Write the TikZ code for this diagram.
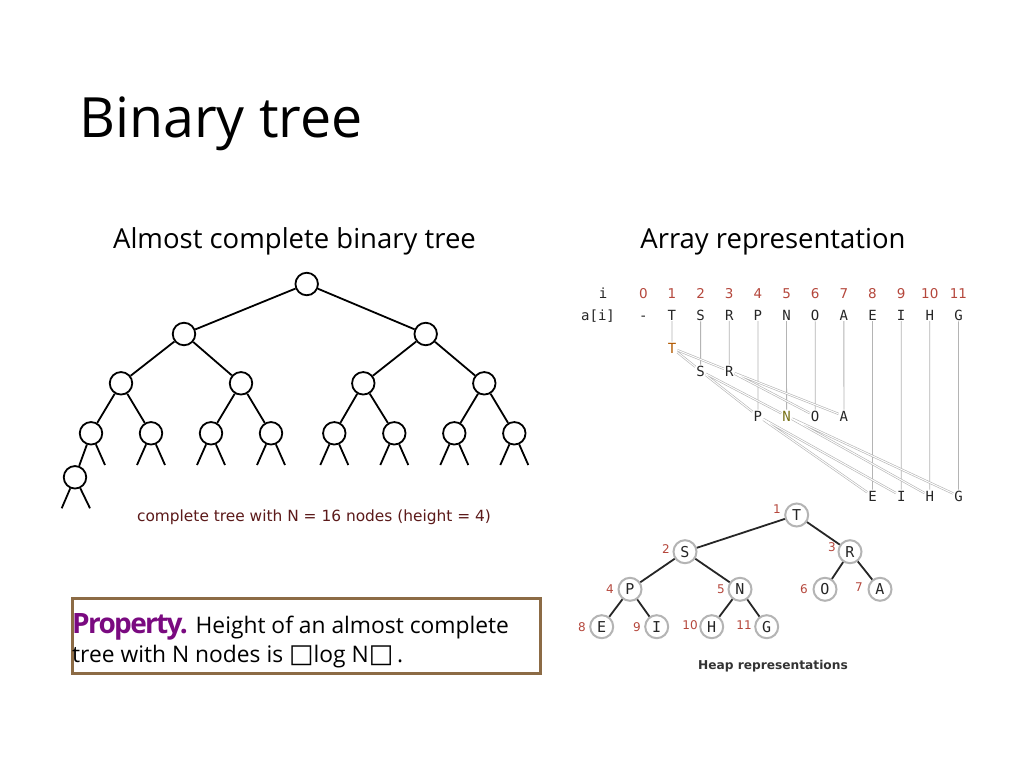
\documentclass[tikz,border=0pt]{standalone}
\usepackage{fontspec}
\setmainfont{Open Sans}
\newfontfamily\dejavu{DejaVu Sans}
\newfontfamily\dmono{DejaVu Sans Mono}
\newfontfamily\capfont{DejaVu Sans}
\usetikzlibrary{positioning}
\definecolor{idxred}{HTML}{B5473C}
\definecolor{capred}{HTML}{5C1A1A}
\definecolor{boxbrown}{HTML}{8C6B45}
\definecolor{propurple}{HTML}{7A0A80}
\definecolor{lgray}{HTML}{B4B4B4}
\tikzset{
  tnode/.style={circle,draw,line width=1.8pt,minimum size=22.5pt,inner sep=0pt},
  tedge/.style={line width=1.8pt},
  hnode/.style={circle,draw=lgray,line width=2pt,fill=white,minimum size=23pt,inner sep=0pt,font=\dmono\fontsize{15}{15}\selectfont,text=black!85},
  hedge/.style={line width=1.8pt,draw=black!85},
  hidx/.style={text=idxred,font=\dejavu\fontsize{12}{12}\selectfont,inner sep=0pt},
  arr/.style={font=\dmono\fontsize{14}{14}\selectfont,text=black!85,inner sep=1pt},
  aidx/.style={font=\dejavu\fontsize{13.5}{13.5}\selectfont,text=idxred,inner sep=1pt},
  vline/.style={draw=lgray,line width=0.8pt},
  dline/.style={draw=lgray,line width=0.6pt,double=white,double distance=1pt},
}
\begin{document}
\begin{tikzpicture}[x=1pt,y=-1pt]
\useasboundingbox[fill=white] (0,0) rectangle (1024,768);
% titles
\node[anchor=base west,inner sep=0pt,font=\fontsize{55.5}{55.5}\selectfont] (title) at (79,137) {Binary tree};
\node[anchor=base,inner sep=0pt,font=\fontsize{27.5}{27.5}\selectfont] (h1) at (294.5,248) {Almost complete binary tree};
\node[anchor=base,inner sep=0pt,font=\fontsize{27.5}{27.5}\selectfont] (h2) at (773,248) {Array representation};
% left tree
\node[tnode] (n1) at (306.7,284) {};
\node[tnode] (n2) at (184,334) {};
\node[tnode] (n3) at (425.7,334) {};
\node[tnode] (n4) at (121,383.3) {};
\node[tnode] (n5) at (241,383.3) {};
\node[tnode] (n6) at (363.3,383.3) {};
\node[tnode] (n7) at (484.3,383.3) {};
\foreach \i/\x in {8/91,9/151,10/211,11/271,12/334.3,13/394.3,14/454.3,15/514.3}{
  \node[tnode] (n\i) at (\x,433.3) {};
}
\node[tnode] (n16) at (75,477.3) {};
\draw[tedge] (n1)--(n2) (n1)--(n3) (n2)--(n4) (n2)--(n5) (n3)--(n6) (n3)--(n7)
  (n4)--(n8) (n4)--(n9) (n5)--(n10) (n5)--(n11) (n6)--(n12) (n6)--(n13) (n7)--(n14) (n7)--(n15)
  (n8)--(n16);
\coordinate (s8r) at (105,465);
\draw[tedge] (n8)--(s8r);
\foreach \i/\x in {9/151,10/211,11/271,12/334.3,13/394.3,14/454.3,15/514.3}{
  \coordinate (s\i l) at (\x-14,465);
  \coordinate (s\i r) at (\x+14,465);
  \draw[tedge] (n\i)--(s\i l) (n\i)--(s\i r);
}
\coordinate (s16l) at (61.7,508.3);
\coordinate (s16r) at (90,508.3);
\draw[tedge] (n16)--(s16l) (n16)--(s16r);
\node[anchor=base,inner sep=0pt,text=capred,font=\capfont\fontsize{15.4}{15.4}\selectfont] (cap) at (314,521) {complete tree with N = 16 nodes (height = 4)};
% property box
\node[draw=boxbrown,line width=2.5pt,minimum width=468pt,minimum height=75pt,anchor=north west,inner sep=0pt] (box) at (71,597) {};
\node[anchor=base west,inner sep=0pt,font=\fontsize{22.8}{22.8}\selectfont] (p1) at (72,633) {{\bfseries\color{propurple}\fontsize{28}{28}\selectfont\addfontfeature{LetterSpace=-6}Property.} Height of an almost complete};
\node[anchor=base west,inner sep=0pt,font=\fontsize{22.8}{22.8}\selectfont] (p2) at (72,662) {tree with N nodes is {\dejavu\fontsize{26}{26}\selectfont □}log N{\dejavu\fontsize{26}{26}\selectfont □}\,.};
% array representation
\node[arr,anchor=base] (ilab) at (603,298) {i};
\node[arr,anchor=base] (alab) at (598,320) {a[i]};
\foreach \k/\c in {0/-,1/T,2/S,3/R,4/P,5/N,6/O,7/A,8/E,9/I,10/H,11/G}{
  \node[aidx,anchor=base] (i\k) at ({643.3+28.65*\k},298) {\k};
  \node[arr,anchor=base] (a\k) at ({643.3+28.65*\k},320) {\c};
}
% tree letters
\node[arr,text=orange!70!black] (tT) at (672,348) {T};
\node[arr] (tS) at (700.6,371) {S};
\node[arr] (tR) at (729.3,371) {R};
\node[arr] (tP) at (757.9,416) {P};
\node[arr,text=olive!80!black] (tN) at (786.6,416) {N};
\node[arr] (tO) at (815.2,416) {O};
\node[arr] (tA) at (843.9,416) {A};
\node[arr] (tE) at (872.5,496) {E};
\node[arr] (tI) at (901.2,496) {I};
\node[arr] (tH) at (929.8,496) {H};
\node[arr] (tG) at (958.5,496) {G};
\draw[vline] (a1)--(tT) (a2)--(tS) (a3)--(tR) (a4)--(tP) (a5)--(tN) (a6)--(tO) (a7)--(tA)
  (a8)--(tE) (a9)--(tI) (a10)--(tH) (a11)--(tG);
\draw[dline] (tT)--(tS) (tT)--(tR) (tS)--(tP) (tS)--(tN) (tR)--(tO) (tR)--(tA)
  (tP)--(tE) (tP)--(tI) (tN)--(tH) (tN)--(tG);
% heap tree
\node[hnode] (hT) at (796.7,515) {T};
\node[hnode] (hS) at (685,551.7) {S};
\node[hnode] (hR) at (850,551.7) {R};
\node[hnode] (hP) at (630,589.3) {P};
\node[hnode] (hN) at (740,589.3) {N};
\node[hnode] (hO) at (825,589.3) {O};
\node[hnode] (hA) at (880,589.3) {A};
\node[hnode] (hE) at (601.7,626.7) {E};
\node[hnode] (hI) at (656.7,626.7) {I};
\node[hnode] (hH) at (711.7,626.7) {H};
\node[hnode] (hG) at (766.7,626.7) {G};
\draw[hedge] (hT)--(hS) (hT)--(hR) (hS)--(hP) (hS)--(hN) (hR)--(hO) (hR)--(hA)
  (hP)--(hE) (hP)--(hI) (hN)--(hH) (hN)--(hG);
\node[hidx] (l1) at (777,509) {1};
\node[hidx] (l2) at (666,549) {2};
\node[hidx] (l3) at (832,547) {3};
\node[hidx] (l4) at (610,589) {4};
\node[hidx] (l5) at (721,589) {5};
\node[hidx] (l6) at (804,589) {6};
\node[hidx] (l7) at (859,587) {7};
\node[hidx] (l8) at (582,627) {8};
\node[hidx] (l9) at (637,627) {9};
\node[hidx] (l10) at (690,625) {10};
\node[hidx] (l11) at (744,625) {11};
\node[anchor=base,inner sep=0pt,text=black!80,font=\dejavu\bfseries\fontsize{12.2}{12.2}\selectfont] (hcap) at (773,669) {Heap representations};
\end{tikzpicture}
\end{document}
